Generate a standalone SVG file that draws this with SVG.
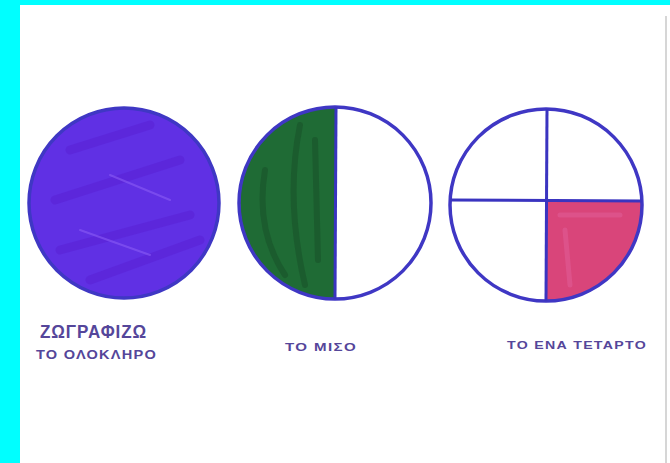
<svg xmlns="http://www.w3.org/2000/svg" width="670" height="463" viewBox="0 0 670 463">
<style>
.ring{fill:none;stroke:#3f37c4;stroke-width:3.5}
.div{stroke:#3a34c0;stroke-width:3}
.lbl{font-family:"Liberation Sans",Arial,sans-serif;fill:#55469a;font-weight:bold;letter-spacing:1px}
.streak{fill:none;stroke-linecap:round}
</style>
<rect x="0" y="0" width="670" height="463" fill="#00ffff"/>
<rect x="20" y="5" width="650" height="458" fill="#ffffff"/>
<line x1="666" y1="16" x2="666" y2="463" stroke="#c8c8c8" stroke-width="1.5"/>
<g id="whole">
<circle cx="124" cy="203" r="95" fill="#6030e4"/>
<path class="streak" d="M70 150 L150 125 M55 200 L180 160 M60 250 L190 215 M90 280 L200 240" stroke="#5a22d6" stroke-width="9" opacity="0.6"/>
<path class="streak" d="M80 230 L150 255 M110 175 L170 200" stroke="#8a5cf5" stroke-width="2" opacity="0.6"/>
<circle class="ring" cx="124" cy="203" r="95"/>
</g>
<g id="half">
<path d="M336 107 A96 96 0 0 0 336 299 Z" fill="#1f6b35"/>
<path class="streak" d="M300 125 Q285 200 305 285 M265 170 Q255 230 285 275 M315 140 L318 260" stroke="#184d28" stroke-width="6" opacity="0.5"/>
<circle class="ring" cx="335" cy="203" r="96"/>
<line class="div" x1="336" y1="107" x2="335" y2="299"/>
</g>
<g id="quarter">
<path d="M547 201 L642 201 A96 96 0 0 1 547 301 Z" fill="#d9457a"/>
<path class="streak" d="M560 215 L620 215 M565 230 L570 285" stroke="#e2609a" stroke-width="5" opacity="0.5"/>
<circle class="ring" cx="546" cy="205" r="96"/>
<line class="div" x1="547" y1="109" x2="546" y2="301"/>
<line class="div" x1="450" y1="200" x2="642" y2="201"/>
</g>
<g id="labels">
<text class="lbl" x="40" y="338" font-size="19" textLength="107" lengthAdjust="spacingAndGlyphs">ΖΩΓΡΑΦΙΖΩ</text>
<text class="lbl" x="36" y="359" font-size="12" textLength="121" lengthAdjust="spacingAndGlyphs">ΤΟ ΟΛΟΚΛΗΡΟ</text>
<text class="lbl" x="285" y="351" font-size="11" textLength="72" lengthAdjust="spacingAndGlyphs">ΤΟ ΜΙΣΟ</text>
<text class="lbl" x="507" y="349" font-size="11" textLength="140" lengthAdjust="spacingAndGlyphs">ΤΟ ΕΝΑ ΤΕΤΑΡΤΟ</text>
</g>
</svg>
